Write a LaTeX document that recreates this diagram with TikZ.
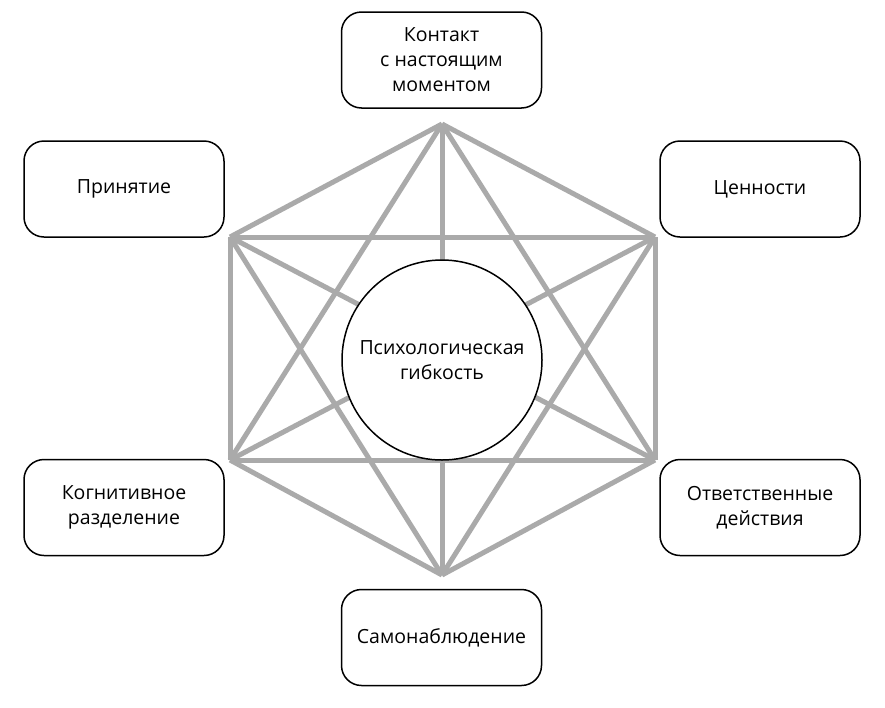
\documentclass[tikz,border=0pt]{standalone}
\usepackage{fontspec}
\setmainfont{Open Sans}
\usetikzlibrary{calc}
\definecolor{edgegray}{RGB}{170,170,170}
\tikzset{facet/.style={draw=black,line width=1.5pt,rounded corners=20pt,fill=white,minimum width=200pt,minimum height=96pt,align=center,font=\fontsize{19.5}{25}\selectfont}}
\tikzset{link/.style={draw=edgegray,line width=5pt}}
\begin{document}
\begin{tikzpicture}[x=1pt,y=-1pt]
\useasboundingbox (0,0) rectangle (885,707);
% corners of the hexagon
\coordinate (V1) at (442,124);
\coordinate (V2) at (655,237);
\coordinate (V3) at (655,460);
\coordinate (V4) at (442,575);
\coordinate (V5) at (230,460);
\coordinate (V6) at (230,237);
\foreach \i in {1,...,6}{
  \foreach \j in {1,...,6}{
    \ifnum\i<\j \draw[link] (V\i) -- (V\j);\fi
  }
}
\node[circle,draw=black,line width=1.5pt,fill=white,minimum size=200pt,align=center,font=\fontsize{19.5}{25}\selectfont] (core) at (442,360) {Психологическая\\гибкость};
\node[facet] (contact) at (441.5,60) {Контакт\\с настоящим\\моментом};
\node[facet] (accept) at (124,189) {Принятие};
\node[facet] (values) at (760,189) {Ценности};
\node[facet] (defusion) at (124,507.5) {Когнитивное\\разделение};
\node[facet] (action) at (760,507.5) {Ответственные\\действия};
\node[facet] (self) at (441.5,637.5) {Самонаблюдение};
\end{tikzpicture}
\end{document}
